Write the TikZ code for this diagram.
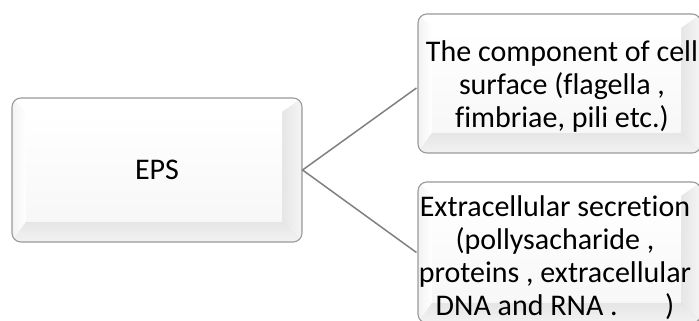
\documentclass[tikz,border=0pt]{standalone}
\usepackage{fontspec}
\setmainfont[Ligatures=NoCommon]{Carlito}
\begin{document}
\begin{tikzpicture}[x=1pt,y=1pt,
  bevelbox/.style={rounded corners=9pt, draw=black!40, line width=1.1pt,
    inner sep=0pt, fill=white,
    path picture={
      \begin{scope}[sharp corners]
        \coordinate (bsw) at (path picture bounding box.south west);
        \coordinate (bne) at (path picture bounding box.north east);
        \coordinate (bse) at (path picture bounding box.south east);
        \coordinate (bnw) at (path picture bounding box.north west);
        \coordinate (isw) at ([xshift=14pt,yshift=20pt]bsw);
        \coordinate (ine) at ([xshift=-20pt,yshift=-14pt]bne);
        \coordinate (ise) at ([xshift=-20pt,yshift=20pt]bse);
        \coordinate (inw) at ([xshift=14pt,yshift=-14pt]bnw);
        % outer rim
        \shade[top color=white, bottom color=black!16] (bsw) rectangle (bne);
        % top and left bevels
        \fill[white] (bnw) -- (bne) -- (ine) -- (inw) -- cycle;
        \shade[left color=black!5, right color=white] (bnw) -- (inw) -- (isw) -- (bsw) -- cycle;
        % right bevel
        \shade[left color=black!10, right color=black!4] (bne) -- (bse) -- (ise) -- (ine) -- cycle;
        % bottom bevel
        \shade[top color=black!10, bottom color=black!5] (bsw) -- (bse) -- (ise) -- (isw) -- cycle;
        % face
        \shade[top color=white, bottom color=black!3] (isw) rectangle (ine);
      \end{scope}
    }},
  boxtext/.style={font=\fontsize{30}{33}\selectfont, align=center, inner sep=0pt},
  link/.style={draw=black!50, line width=1.5pt}]

\useasboundingbox (0,0) rectangle (699,321);
\clip (0,0) rectangle (699,321);

% central box
\node[bevelbox, minimum width=290, minimum height=144,
      font=\fontsize{30}{33}\selectfont] (eps) at (157,151) {EPS};

% two branch boxes
\node[bevelbox, minimum width=283, minimum height=139] (surf) at (559.5,237.5) {};
\node[bevelbox, minimum width=283, minimum height=141] (secr) at (559.5,68.5) {};

\node[boxtext] (surft) at (562,234)
  {The component of cell\\surface (flagella ,\\fimbriae, pili etc.)};
\node[boxtext] (secrt) at (555,63)
  {Extracellular secretion\\(pollysacharide ,\\proteins , extracellular\\DNA and RNA .~~~~~~~)};

% connectors
\draw[link] ([xshift=-1pt]surf.west |- 0,233) -- (eps.east) -- ([xshift=-1pt]secr.west);
\end{tikzpicture}
\end{document}
